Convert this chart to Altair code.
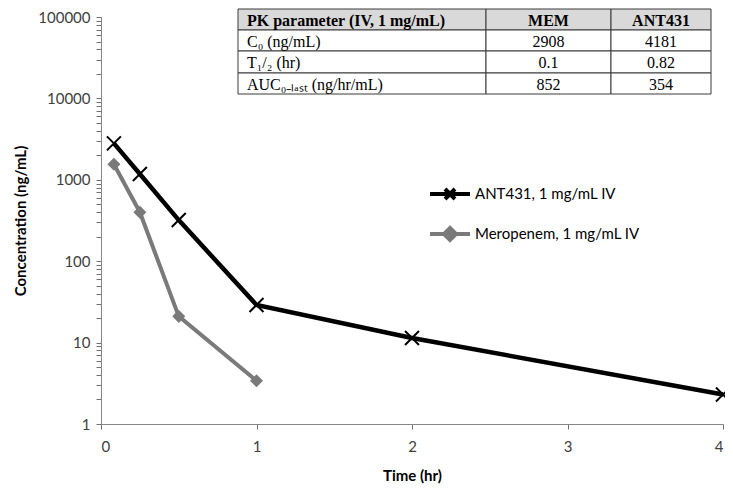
import altair as alt
import pandas as pd

# ---------------- data ----------------
series_names = ["ANT431, 1 mg/mL IV", "Meropenem, 1 mg/mL IV"]
ant_time = [0.083, 0.25, 0.5, 1, 2, 4]
ant_conc = [2800, 1180, 320, 29, 11.4, 2.3]
mem_time = [0.083, 0.25, 0.5, 1]
mem_conc = [1550, 400, 21, 3.4]

x_ticks = [0, 1, 2, 3, 4]
y_decades = [1, 10, 100, 1000, 10000, 100000]

table_header = ["PK parameter (IV, 1 mg/mL)", "MEM", "ANT431"]
table_params = ["C\u2080 (ng/mL)", "T\u2081/\u2082 (hr)", "AUC\u2080\u208B\u2097\u2090\u209B\u209C (ng/hr/mL)"]
table_mem = ["2908", "0.1", "852"]
table_ant = ["4181", "0.82", "354"]

# ---------------- layout (pixels, relative to plot area) ----------------
W, H = 622, 407
col_edges = [137, 385, 510, 610]
row_edges = [-8, 13, 34, 56, 77]

ant_df = pd.DataFrame({"time": ant_time, "conc": ant_conc, "series": series_names[0]})
mem_df = pd.DataFrame({"time": mem_time, "conc": mem_conc, "series": series_names[1]})

y_vals = [m * d for d in y_decades[:-1] for m in range(1, 10)] + [y_decades[-1]]

FONT = "Lato"
x_enc = alt.X("time:Q", scale=alt.Scale(domain=[0, 4]),
              axis=alt.Axis(values=x_ticks, title="Time (hr)", format="d",
                            grid=False, tickSize=5, labelPadding=10, titlePadding=14))
y_enc = alt.Y("conc:Q", scale=alt.Scale(type="log", domain=[1, 100000]),
              axis=alt.Axis(values=y_vals, title="Concentration (ng/mL)", format="d",
                            labelExpr="indexof(['1','10','100','1000','10000','100000'], datum.label) >= 0 ? datum.label : ''",
                            labelOverlap=False, grid=False, tickSize=5, labelPadding=6, titlePadding=9))

ant_line = alt.Chart(ant_df).mark_line(color="#000000", strokeWidth=4.5).encode(x=x_enc, y=y_enc)
mem_line = alt.Chart(mem_df).mark_line(color="#7a7a7a", strokeWidth=4).encode(x=x_enc, y=y_enc)
ant_pts = alt.Chart(ant_df).mark_point(shape="M-1,-1L1,1M-1,1L1,-1", size=196, strokeWidth=2,
                                       color="#000000", filled=False, opacity=1).encode(x=x_enc, y=y_enc)
mem_pts = alt.Chart(mem_df).mark_point(shape="diamond", size=170, color="#7a7a7a",
                                       filled=True, opacity=1).encode(x=x_enc, y=y_enc)

legend_paths = ["M-1,0L1,0M-0.25,-0.25L0.25,0.25M-0.25,0.25L0.25,-0.25",
                "M-1,0L1,0M0,-0.3L0.3,0L0,0.3L-0.3,0Z"]
leg = alt.Legend(title=None, orient="none", legendX=327, legendY=155, symbolSize=1600,
                 symbolStrokeWidth=4, labelFont=FONT, labelFontSize=15, labelColor="#000000",
                 labelLimit=0, rowPadding=5, labelOffset=3, padding=0)
col_scale = alt.Scale(domain=series_names, range=["#000000", "#7a7a7a"])
legend_layer = alt.Chart(pd.DataFrame({"series": series_names})).transform_filter("false").mark_point(
    filled=True, opacity=1).encode(
    fill=alt.Fill("series:N", scale=col_scale, legend=leg),
    stroke=alt.Stroke("series:N", scale=col_scale, legend=leg),
    shape=alt.Shape("series:N", scale=alt.Scale(domain=series_names, range=legend_paths), legend=leg),
)

plot = alt.layer(ant_line, mem_line, ant_pts, mem_pts, legend_layer)

# ---------------- table ----------------
rect_rows = []
for r in range(4):
    for c in range(3):
        rect_rows.append({"x": col_edges[c], "x2": col_edges[c + 1],
                          "y": row_edges[r], "y2": row_edges[r + 1],
                          "fill": "#d9d9d9" if r == 0 else "#ffffff"})
rect_df = pd.DataFrame(rect_rows)

text_rows = []
all_rows = [table_header] + [[p, m, a] for p, m, a in zip(table_params, table_mem, table_ant)]
for r, row in enumerate(all_rows):
    yc = (row_edges[r] + row_edges[r + 1]) / 2
    for c, t in enumerate(row):
        if c == 0:
            xp, al = col_edges[0] + 9, "left"
        else:
            xp, al = (col_edges[c] + col_edges[c + 1]) / 2, "center"
        text_rows.append({"x": xp, "y": yc, "text": t, "align": al, "bold": r == 0})
text_df = pd.DataFrame(text_rows)

tx = alt.X("x:Q", scale=alt.Scale(domain=[0, W]), axis=None)
ty = alt.Y("y:Q", scale=alt.Scale(domain=[0, H], reverse=True), axis=None)

rects = alt.Chart(rect_df).mark_rect(stroke="#3a3a3a", strokeWidth=1).encode(
    x=tx, x2="x2:Q", y=ty, y2="y2:Q", fill=alt.Fill("fill:N", scale=None))

def text_layer(align, bold):
    d = text_df[(text_df["align"] == align) & (text_df["bold"] == bold)]
    return alt.Chart(d).mark_text(align=align, baseline="middle", font="Liberation Serif",
                                  fontSize=16, fontWeight="bold" if bold else "normal",
                                  color="#000000", dy=1).encode(x=tx, y=ty, text="text:N")

table = alt.layer(rects, text_layer("left", True), text_layer("center", True),
                  text_layer("left", False), text_layer("center", False))

chart = alt.layer(plot, table).resolve_scale(x="independent", y="independent").properties(
    width=W, height=H,
    autosize=alt.AutoSizeParams(type="none"),
    padding={"left": 93, "top": 9, "right": 2, "bottom": 63},
).configure_view(stroke=None).configure_axis(
    domainColor="#868686", tickColor="#707070", tickWidth=1, labelColor="#404040",
    labelFont=FONT, labelFontSize=15, titleFont=FONT, titleFontSize=15,
    titleFontWeight="bold", titleColor="#000000",
)

chart.save("out.html", embed_options={"renderer": "svg", "actions": False})
